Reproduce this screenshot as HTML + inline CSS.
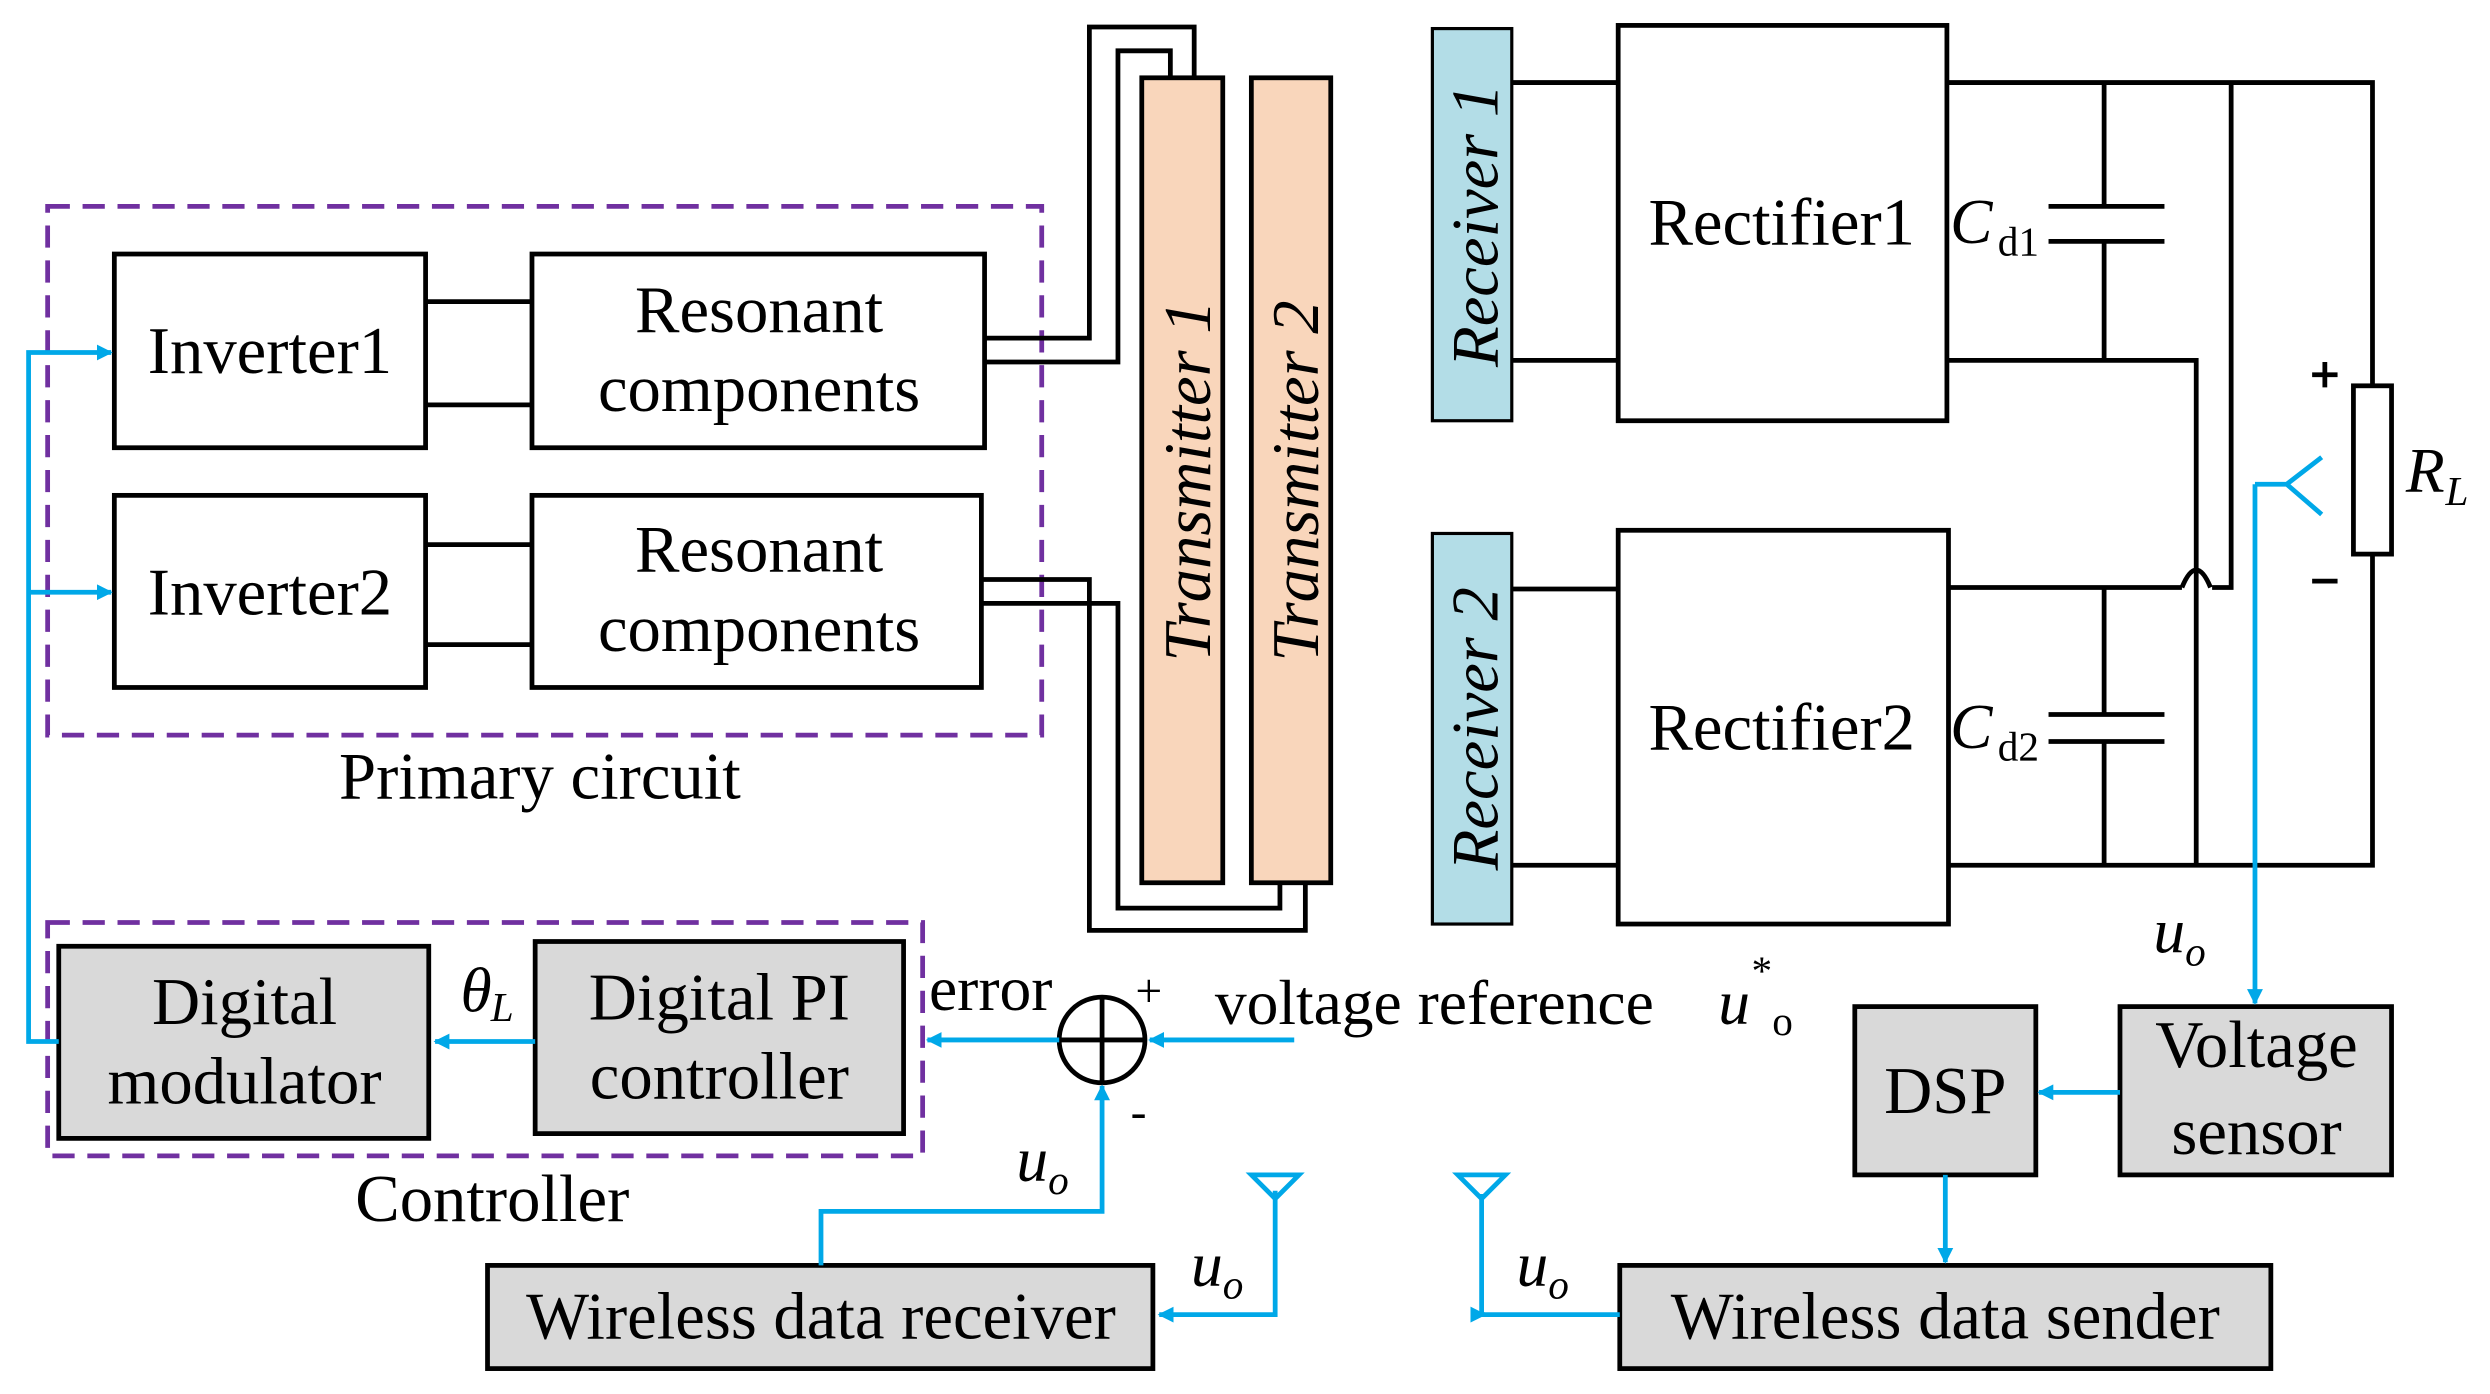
<!DOCTYPE html>
<html><head><meta charset="utf-8"><style>
html,body{margin:0;padding:0;background:#fff}
svg{display:block}
text{font-family:"Liberation Serif",serif;fill:#000}
</style></head><body>
<svg width="2490" height="1394" viewBox="0 0 1568 878" preserveAspectRatio="none" xmlns="http://www.w3.org/2000/svg">
<defs>
<marker id="a" markerWidth="10" markerHeight="10" refX="9" refY="5" orient="auto" markerUnits="userSpaceOnUse" viewBox="0 0 10 10"><path d="M0,0 L10,5 L0,10 z" fill="#00a8e8"/></marker>
</defs>
<g fill="none" stroke="#000" stroke-width="3">
<rect x="30" y="130" width="626" height="333" stroke="#7030a0" stroke-dasharray="14,8"/>
<rect x="30" y="581" width="551" height="147" stroke="#7030a0" stroke-dasharray="14,8"/>
<rect x="72" y="160" width="196" height="122"/>
<rect x="335" y="160" width="285" height="122"/>
<rect x="72" y="312" width="196" height="121"/>
<rect x="335" y="312" width="283" height="121"/>
<path d="M268,190H335M268,255H335M268,343H335M268,406H335"/>
<path d="M620,213H686V17H752V49M620,228H704V32H737V49"/>
<path d="M618,365H686V586H822V556M618,380H704V572H806V556"/>
<rect x="719" y="49" width="51" height="507" fill="#f9d6bb"/>
<rect x="788" y="49" width="50" height="507" fill="#f9d6bb"/>
<rect x="902" y="18" width="50" height="247" fill="#b3dde7" stroke-width="2"/>
<rect x="902" y="336" width="50" height="246" fill="#b3dde7" stroke-width="2"/>
<rect x="1019" y="16" width="207" height="249"/>
<rect x="1019" y="334" width="208" height="248"/>
<path d="M952,52H1019M952,227H1019M952,371H1019M952,545H1019"/>
<path d="M1226,52H1494V243M1325,52V130M1325,152V227M1226,227H1383V545M1405,52V370H1393M1227,370H1374"/>
<path d="M1374,370 Q1383,348 1392,370"/>
<path d="M1325,370V450M1325,467V545M1227,545H1494V349"/>
<path d="M1290,130H1363M1290,152H1363M1290,450H1363M1290,467H1363"/>
<rect x="1482" y="243" width="24" height="106"/>
<path d="M1456,236H1472M1464,228V244M1456,366H1472"/>
<circle cx="694" cy="655" r="27"/>
<path d="M667,655H721M694,628V682"/>
<rect x="37" y="596" width="233" height="121" fill="#d9d9d9"/>
<rect x="337" y="593" width="232" height="121" fill="#d9d9d9"/>
<rect x="1168" y="634" width="114" height="106" fill="#d9d9d9"/>
<rect x="1335" y="634" width="171" height="106" fill="#d9d9d9"/>
<rect x="307" y="797" width="419" height="65" fill="#d9d9d9"/>
<rect x="1020" y="797" width="410" height="65" fill="#d9d9d9"/>
</g>
<g fill="none" stroke="#00a8e8" stroke-width="3">
<path d="M37,656H18V222H70" marker-end="url(#a)"/>
<path d="M18,373H70" marker-end="url(#a)"/>
<path d="M337,656H274" marker-end="url(#a)"/>
<path d="M667,655H584" marker-end="url(#a)"/>
<path d="M815,655H724" marker-end="url(#a)"/>
<path d="M517,797V763H694V684" marker-end="url(#a)"/>
<path d="M1420,305H1440M1440,305L1462,288M1440,305L1462,324"/>
<path d="M1420,305V632" marker-end="url(#a)"/>
<path d="M1335,688H1284" marker-end="url(#a)"/>
<path d="M1225,740V795" marker-end="url(#a)"/>
<path d="M803,750V828H730" marker-end="url(#a)"/>
<path d="M1020,828H933V752"/>
<path d="M933,828H935" marker-end="url(#a)"/>
<path d="M788,740H818L803,755Z M918,740H948L933,755Z"/>
</g>
<g font-size="42" text-anchor="middle">
<text x="170" y="235">Inverter1</text>
<text x="170" y="387">Inverter2</text>
<text x="478" y="209">Resonant</text>
<text x="478" y="259">components</text>
<text x="478" y="360">Resonant</text>
<text x="478" y="410">components</text>
<text x="340" y="503">Primary circuit</text>
<text x="310" y="769">Controller</text>
<text x="154" y="645">Digital</text>
<text x="154" y="695">modulator</text>
<text x="453" y="642">Digital PI</text>
<text x="453" y="692">controller</text>
<text x="1122" y="154">Rectifier1</text>
<text x="1122" y="472">Rectifier2</text>
<text x="1225" y="701">DSP</text>
<text x="1421" y="672">Voltage</text>
<text x="1421" y="727">sensor</text>
<text x="517" y="843">Wireless data receiver</text>
<text x="1225" y="843">Wireless data sender</text>
</g>
<g font-size="42" font-style="italic" text-anchor="middle">
<text transform="translate(762,303) rotate(-90)">Transmitter 1</text>
<text transform="translate(830,303) rotate(-90)">Transmitter 2</text>
<text transform="translate(943,142) rotate(-90)">Receiver 1</text>
<text transform="translate(943,459) rotate(-90)">Receiver 2</text>
</g>
<g font-size="40">
<text x="585" y="636">error</text>
<text x="765" y="645">voltage reference</text>
<text x="715" y="634" font-size="30">+</text>
<text x="712" y="710" font-size="30">-</text>
<text x="1228" y="153" font-style="italic">C</text><text x="1258" y="161" font-size="26">d1</text>
<text x="1228" y="471" font-style="italic">C</text><text x="1258" y="479" font-size="26">d2</text>
<text x="1515" y="310" font-style="italic">R</text><text x="1540" y="318" font-size="26" font-style="italic">L</text>
<text x="290" y="637" font-style="italic">θ</text><text x="309" y="643" font-size="26" font-style="italic">L</text>
<text x="1082" y="645" font-style="italic">u</text><text x="1103" y="620" font-size="26">*</text><text x="1116" y="652" font-size="26">o</text>
<text x="1356" y="600" font-style="italic">u</text><text x="1376" y="608" font-size="26" font-style="italic">o</text>
<text x="640" y="744" font-style="italic">u</text><text x="660" y="752" font-size="26" font-style="italic">o</text>
<text x="750" y="810" font-style="italic">u</text><text x="770" y="818" font-size="26" font-style="italic">o</text>
<text x="955" y="810" font-style="italic">u</text><text x="975" y="818" font-size="26" font-style="italic">o</text>
</g>
</svg>
</body></html>
